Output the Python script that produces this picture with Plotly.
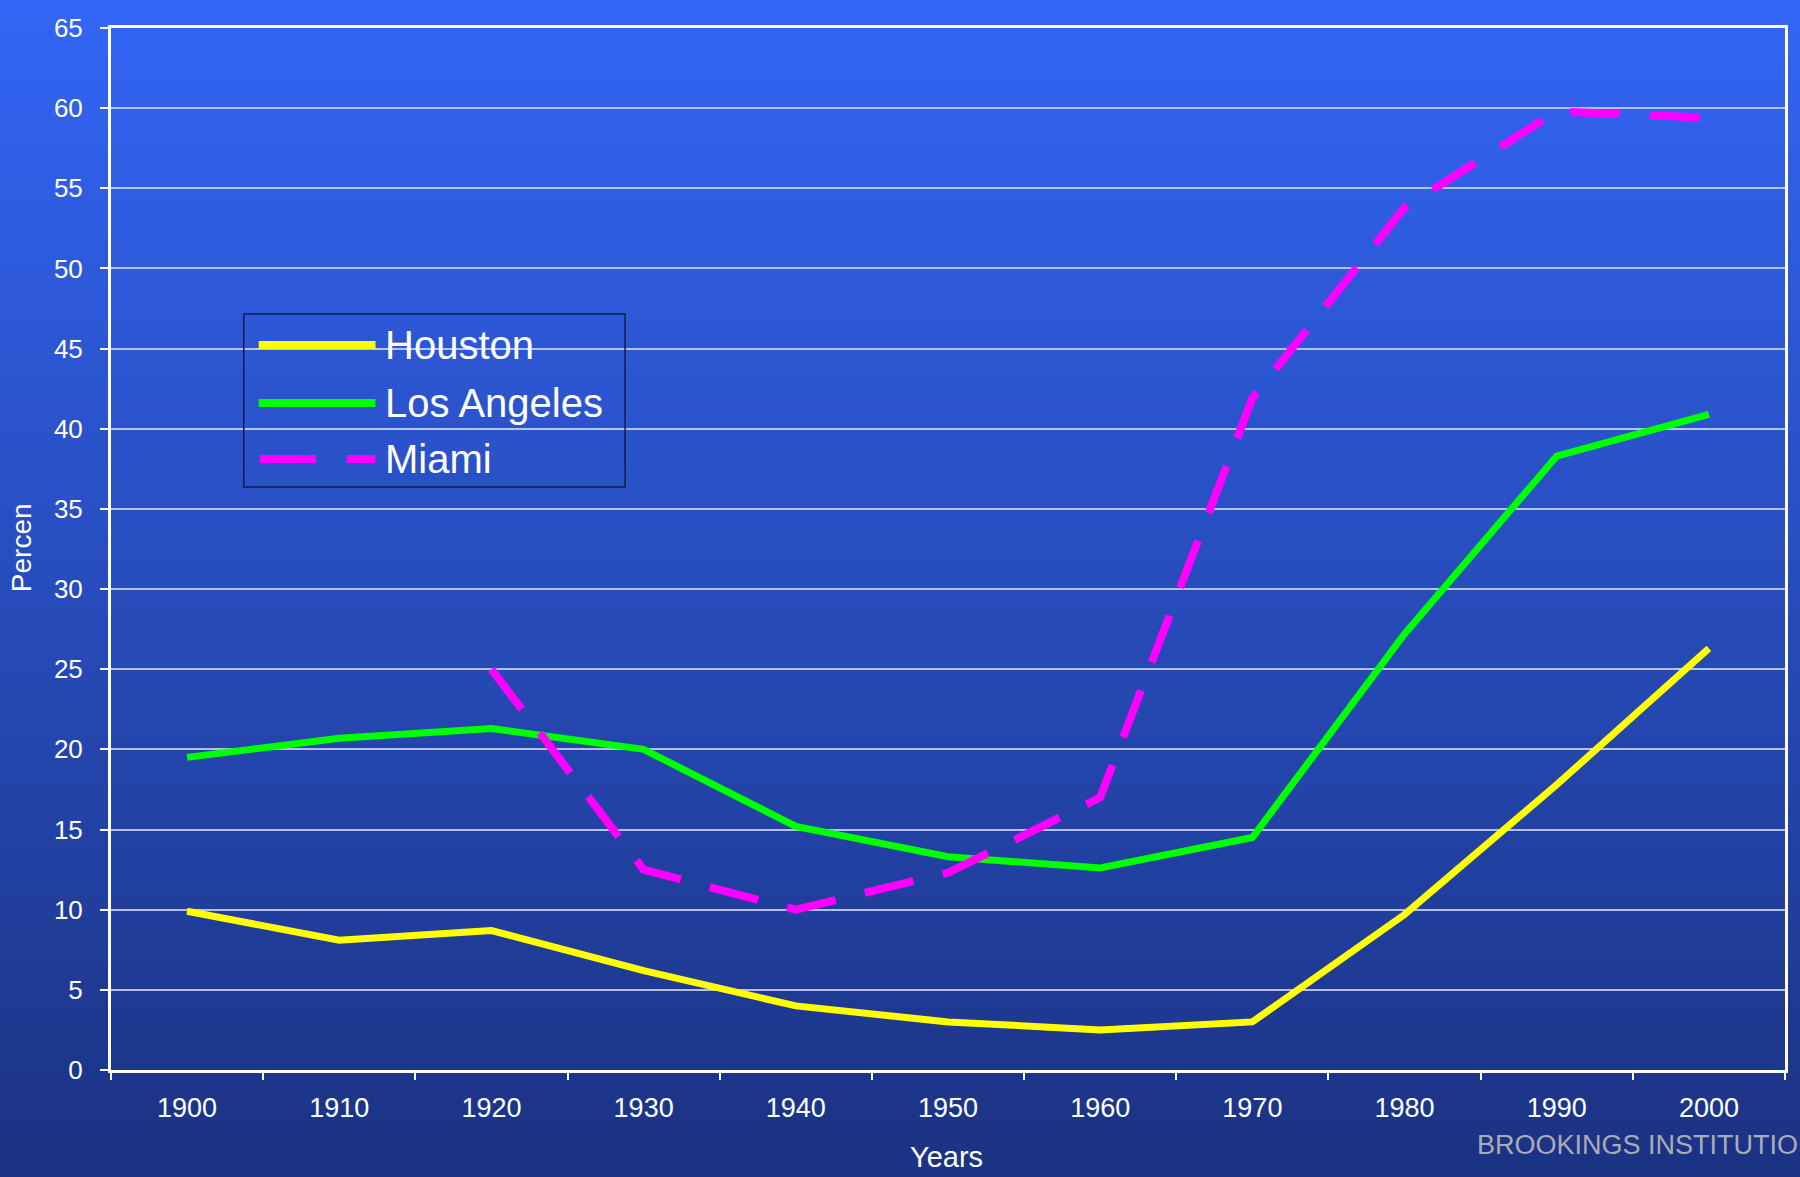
import plotly.graph_objects as go

years = ["1900", "1910", "1920", "1930", "1940", "1950", "1960", "1970", "1980", "1990", "2000"]
houston = [9.9, 8.1, 8.7, 6.2, 4.0, 3.0, 2.5, 3.0, 9.7, 17.8, 26.3]
los_angeles = [19.5, 20.7, 21.3, 20.0, 15.2, 13.3, 12.6, 14.5, 27.2, 38.3, 40.9]
miami = [None, None, 25.0, 12.5, 10.0, 12.3, 17.0, 41.9, 53.8, 59.8, 59.4]
y_ticks = [0, 5, 10, 15, 20, 25, 30, 35, 40, 45, 50, 55, 60, 65]

W, H = 1800, 1177
L, R, T, B = 111, 12, 28, 107
PW, PH = W - L - R, H - T - B
FONT = "Liberation Sans, Arial, sans-serif"


def px(x):
    return (x - L) / PW


def py(y):
    return (H - B - y) / PH


fig = go.Figure()
fig.add_trace(go.Scatter(x=years, y=houston, name="Houston", mode="lines",
                         line=dict(color="#FFFF00", width=7), showlegend=False))
fig.add_trace(go.Scatter(x=years, y=los_angeles, name="Los Angeles", mode="lines",
                         line=dict(color="#00FF00", width=7), showlegend=False))
fig.add_trace(go.Scatter(x=years, y=miami, name="Miami", mode="lines",
                         line=dict(color="#FF00FF", width=8, dash="50px,30px"),
                         showlegend=False))

shapes = []
# vertical gradient background
N = 150
top_c = (51, 102, 246)
bot_c = (27, 50, 130)
for i in range(N):
    f = (i + 0.5) / N
    c = tuple(round(top_c[k] + (bot_c[k] - top_c[k]) * f) for k in range(3))
    y0 = i * H / N
    y1 = (i + 1) * H / N + 1
    shapes.append(dict(type="rect", xref="paper", yref="paper", layer="below",
                       x0=px(-5), x1=px(W + 5), y0=py(y1), y1=py(y0),
                       line=dict(width=0), fillcolor="rgb(%d,%d,%d)" % c))

# custom legend
shapes.append(dict(type="rect", xref="paper", yref="paper", layer="above",
                   x0=px(244), x1=px(626), y0=py(487), y1=py(314),
                   line=dict(color="#141B4A", width=1.5), fillcolor="rgba(0,0,0,0)"))
leg = [("Houston", "#FFFF00", 345, "solid"),
       ("Los Angeles", "#00FF00", 403, "solid"),
       ("Miami", "#FF00FF", 459, "56px,31px")]
annotations = []
for name, col, yy, dash in leg:
    shapes.append(dict(type="line", xref="paper", yref="paper", layer="above",
                       x0=px(259 if dash == "solid" else 260), x1=px(376),
                       y0=py(yy), y1=py(yy),
                       line=dict(color=col, width=8, dash=dash)))
    annotations.append(dict(text=name, xref="paper", yref="paper", x=px(383), y=py(yy),
                            xanchor="left", yanchor="middle", showarrow=False,
                            font=dict(family=FONT, size=40, color="white")))

annotations.append(dict(text="BROOKINGS INSTITUTION", xref="paper", yref="paper",
                        x=px(1477), y=py(1145), xanchor="left", yanchor="middle",
                        showarrow=False, font=dict(family=FONT, size=27, color="#A9ABB6")))
annotations.append(dict(text="CENTER ON URBAN AND METROPOLITAN POLICY", xref="paper",
                        yref="paper", x=px(1171), y=py(1172), xanchor="left",
                        yanchor="top", showarrow=False,
                        font=dict(family=FONT, size=27, color="#A9ABB6")))
annotations.append(dict(text="Years", xref="paper", yref="paper", x=px(948), y=py(1157),
                        xanchor="center", yanchor="middle", showarrow=False,
                        font=dict(family=FONT, size=29, color="white")))
annotations.append(dict(text="Percen", xref="paper", yref="paper", x=px(21), y=py(548),
                        xanchor="center", yanchor="middle", showarrow=False, textangle=-90,
                        font=dict(family=FONT, size=28, color="white")))

fig.update_layout(
    width=W, height=H,
    margin=dict(l=L, r=R, t=T, b=B, pad=0),
    paper_bgcolor="rgb(40,76,188)",
    plot_bgcolor="rgba(0,0,0,0)",
    shapes=shapes,
    annotations=annotations,
    showlegend=False,
    font=dict(family=FONT, color="white"),
    xaxis=dict(type="category", categoryorder="array", categoryarray=years,
               tickson="boundaries", ticks="outside", ticklen=7, tickwidth=1.5,
               tickcolor="white", showgrid=False, showline=True, linecolor="white",
               linewidth=3, mirror=True, tickfont=dict(family=FONT, size=27, color="white"),
               ticklabelstandoff=12, range=[-0.5, 10.5], fixedrange=True),
    yaxis=dict(range=[0, 65], tickvals=y_ticks, ticks="outside", ticklen=8, tickwidth=1.5,
               tickcolor="white", showgrid=True, gridcolor="rgba(215,222,255,0.8)",
               gridwidth=1.5, zeroline=False, showline=True, linecolor="white",
               linewidth=3, mirror=True, tickfont=dict(family=FONT, size=26, color="white"),
               ticklabelstandoff=12, fixedrange=True),
)

fig.write_html("out.html", config={"displayModeBar": False},
               post_script="document.body.style.margin='0';document.body.style.overflow='hidden';")
